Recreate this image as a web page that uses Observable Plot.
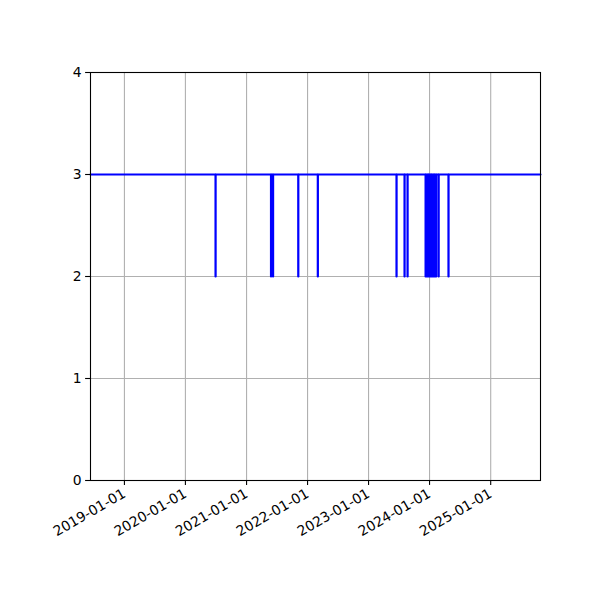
<!DOCTYPE html>
<html>
<head>
<meta charset="utf-8">
<script src="https://cdn.jsdelivr.net/npm/d3@7"></script>
<script src="https://cdn.jsdelivr.net/npm/@observablehq/plot@0.6"></script>
<style>
  html, body { margin: 0; padding: 0; background: #fff; }
  #chart { width: 600px; height: 600px; }
</style>
</head>
<body>
<div id="chart"></div>
<script>
const dates = [
  "2018-06-12",
  "2020-06-29", "2020-06-30",
  "2021-05-27", "2021-05-28",
  "2021-06-08", "2021-06-09",
  "2021-11-06", "2021-11-07",
  "2022-03-03", "2022-03-04",
  "2023-06-17", "2023-06-18",
  "2023-08-04", "2023-08-05",
  "2023-08-22", "2023-08-23",
  "2023-12-08", "2023-12-09",
  "2023-12-17", "2023-12-18",
  "2023-12-26", "2023-12-27",
  "2024-01-04", "2024-01-05",
  "2024-01-13", "2024-01-14",
  "2024-01-22", "2024-01-23",
  "2024-01-31", "2024-02-01",
  "2024-02-09", "2024-02-10",
  "2024-02-24", "2024-02-25",
  "2024-04-23", "2024-04-24",
  "2025-10-26"
];
const values = [
  3,
  2, 3,
  2, 3,
  2, 3,
  2, 3,
  2, 3,
  2, 3,
  2, 3,
  2, 3,
  2, 3,
  2, 3,
  2, 3,
  2, 3,
  2, 3,
  2, 3,
  2, 3,
  2, 3,
  2, 3,
  2, 3,
  3
];
const xTicks = ["2019-01-01","2020-01-01","2021-01-01","2022-01-01","2023-01-01","2024-01-01","2025-01-01"];
const yTicks = [0, 1, 2, 3, 4];

const parse = d3.utcParse("%Y-%m-%d");
const data = dates.map((d, i) => ({date: parse(d), value: values[i]}));
const xDomain = [parse(dates[0]), parse(dates[dates.length - 1])];

const chart = Plot.plot({
  width: 600,
  height: 600,
  marginLeft: 90,
  marginRight: 60,
  marginTop: 72,
  marginBottom: 120,
  style: {fontFamily: "DejaVu Sans", fontSize: "13.9px", color: "#000", background: "#fff"},
  x: {type: "utc", domain: xDomain, label: null},
  y: {domain: [0, 4], label: null},
  marks: [
    Plot.gridX(xTicks.map(parse), {stroke: "#b0b0b0", strokeOpacity: 1, strokeWidth: 1.1}),
    Plot.gridY(yTicks, {stroke: "#b0b0b0", strokeOpacity: 1, strokeWidth: 1.1}),
    Plot.lineY(data, {x: "date", y: "value", curve: "step-after", stroke: "#0000ff", strokeWidth: 2.08}),
    Plot.frame({stroke: "#000", strokeWidth: 1.1}),
    Plot.axisX(xTicks.map(parse), {
      tickFormat: d3.utcFormat("%Y-%m-%d"),
      tickSize: 4.9, tickPadding: 7, tickRotate: -30,
      stroke: "#000", strokeWidth: 1.1, fill: "#000", fontSize: 13.9
    }),
    Plot.axisY(yTicks, {
      tickFormat: d => String(d),
      tickSize: 4.9, tickPadding: 4,
      stroke: "#000", strokeWidth: 1.1, fill: "#000", fontSize: 13.9
    })
  ]
});
document.getElementById("chart").appendChild(chart);
</script>
</body>
</html>
